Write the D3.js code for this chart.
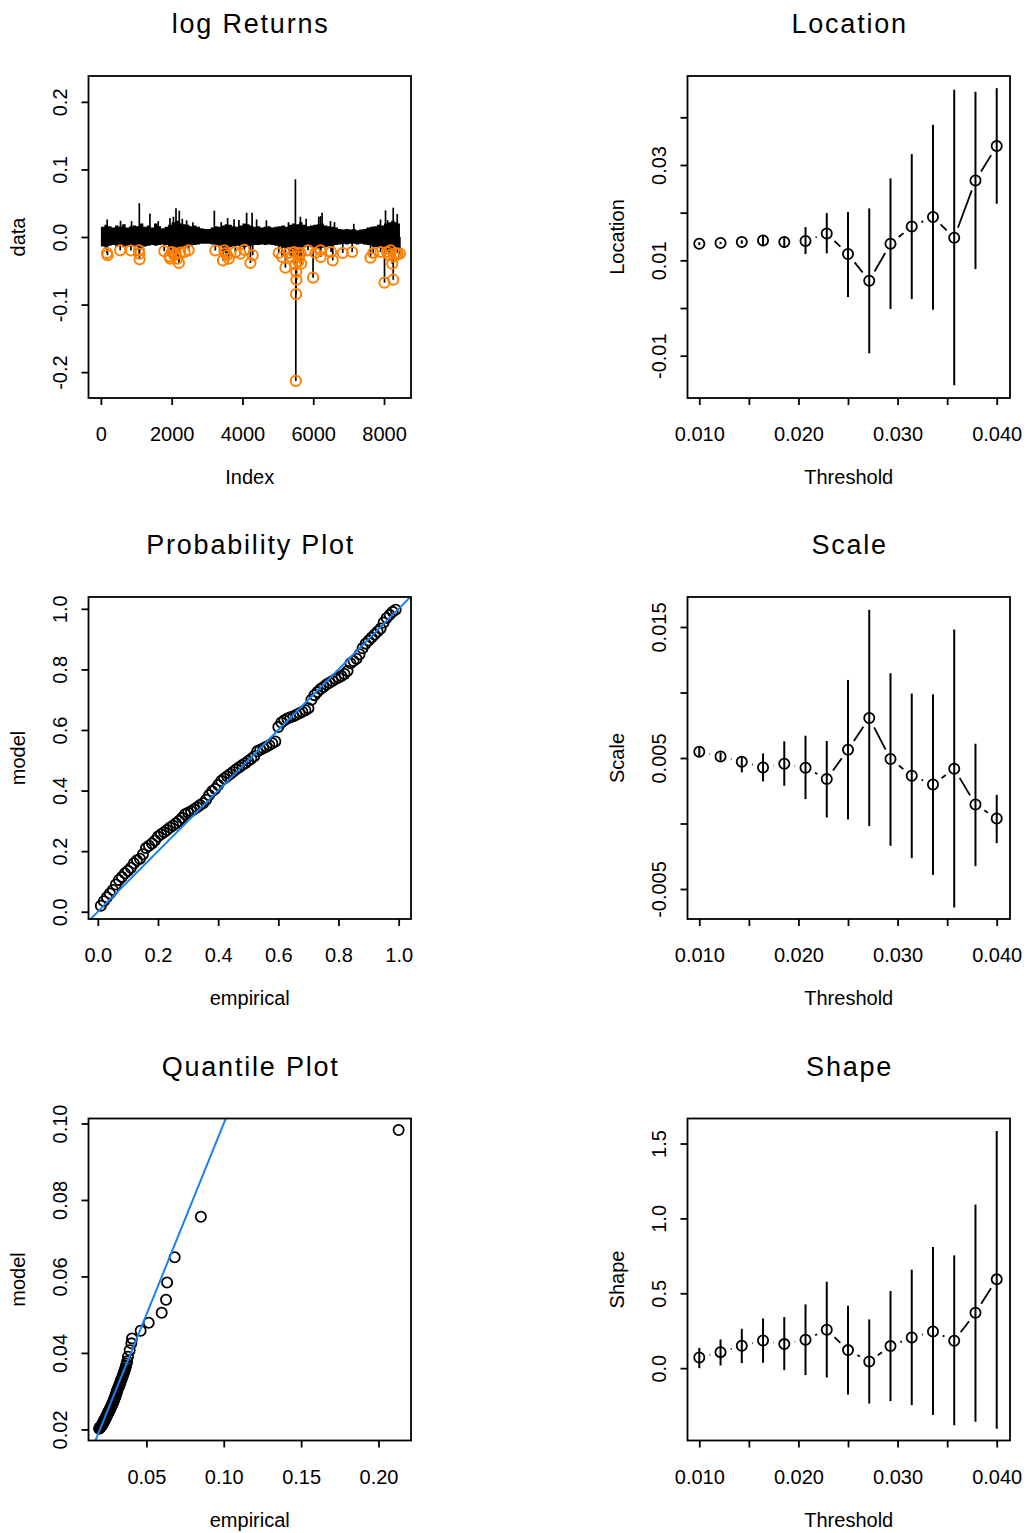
<!DOCTYPE html>
<html><head><meta charset="utf-8">
<script src="https://cdn.jsdelivr.net/npm/d3@7"></script>
<style>
body{margin:0;background:#fff}
svg{display:block}
text{font-family:'Liberation Sans',Arial,Helvetica,sans-serif;fill:#000}
</style>
</head><body>
<svg id="chart" width="1027" height="1533"></svg>
<script>
// ---------------- DATA ----------------
// log returns panel: envelope of the dense series, per bin of 100 observations
const binWidth = 100;
const seriesEnd = 8450;
const bandTop = [
 .015,.018,.016,.014,.017,.015,.019,.014,.016,.017,
 .016,.020,.015,.017,.014,.020,.016,.013,.015,.018,
 .022,.024,.020,.019,.018,.016,.017,.015,.013,.012,
 .012,.014,.016,.015,.017,.019,.018,.016,.015,.017,
 .020,.019,.017,.015,.016,.014,.015,.016,.014,.015,
 .016,.017,.015,.018,.020,.019,.022,.018,.016,.017,
 .018,.019,.020,.017,.016,.015,.014,.012,.011,.012,
 .011,.012,.010,.011,.012,.014,.015,.016,.018,.017,
 .020,.022,.024,.022,.020];
const bandBottom = [
 -.014,-.016,-.013,-.012,-.014,-.013,-.015,-.013,-.012,-.014,
 -.015,-.016,-.014,-.013,-.012,-.013,-.012,-.011,-.012,-.014,
 -.016,-.017,-.016,-.015,-.014,-.013,-.012,-.011,-.010,-.010,
 -.010,-.011,-.012,-.013,-.015,-.016,-.015,-.014,-.013,-.014,
 -.015,-.014,-.013,-.012,-.012,-.011,-.012,-.011,-.012,-.013,
 -.014,-.016,-.017,-.016,-.018,-.018,-.017,-.015,-.014,-.015,
 -.016,-.017,-.016,-.015,-.014,-.013,-.012,-.011,-.010,-.011,
 -.010,-.010,-.011,-.010,-.011,-.012,-.013,-.015,-.016,-.017,
 -.018,-.017,-.018,-.017,-.016];
const spikeIndex = [178,555,866,1086,1386,1621,1952,2050,2122,2215,2300,2422,2600,3205,3400,3581,3762,3900,4118,4272,4400,4676,5300,5496,5638,5800,6156,6204,6250,6487,6600,7146,7900,8042,8100,8260,8373];
const spikeValue = [.026,.024,.0235,.050,.0346,.0235,.028,.030,.0425,.039,.027,.0247,.022,.039,.022,.028,.0264,.025,.036,.036,.026,.0247,.022,.0854,.030,.027,.030,.031,.036,.0235,.022,.0195,.026,.0395,.025,.0434,.034];
const exceedIndex = [170,187,546,849,1075,1085,1092,1791,1942,1960,2007,2080,2102,2160,2206,2244,2365,2479,3233,3450,3488,3520,3564,3611,3799,3941,4054,4224,4289,5025,5120,5214,5308,5375,5450,5497,5520,5526,5515,5507,5560,5580,5600,5639,5658,5854,5995,6061,6202,6210,6504,6551,6834,7100,7618,7694,7901,8014,8090,8150,8184,8232,8260,8280,8325,8380,8447];
const exceedValue = [-.0237,-.027,-.0197,-.020,-.0197,-.0247,-.033,-.021,-.0286,-.032,-.0222,-.027,-.0247,-.032,-.0385,-.0232,-.0222,-.0197,-.020,-.0346,-.0197,-.024,-.027,-.032,-.0222,-.0247,-.019,-.0385,-.027,-.0237,-.0296,-.0454,-.0237,-.0296,-.0222,-.0405,-.0518,-.0632,-.0846,-.213,-.024,-.036,-.029,-.0237,-.0395,-.0197,-.0602,-.0237,-.0197,-.0296,-.0222,-.0346,-.0237,-.0222,-.0306,-.0237,-.0222,-.0676,-.0222,-.027,-.0197,-.0395,-.0632,-.029,-.0237,-.025,-.0247];

// threshold diagnostics
const thresholds = [0.010,0.012143,0.014286,0.016429,0.018571,0.020714,0.022857,0.025,0.027143,0.029286,0.031429,0.033571,0.035714,0.037857,0.040];
const locationEst = [0.01348,0.01363,0.01384,0.01417,0.01384,0.01405,0.01564,0.01132,0.00572,0.01348,0.01711,0.01908,0.01474,0.02675,0.03396];
const locationLo  = [0.0132,0.0134,0.0135,0.01313,0.01257,0.01131,0.01145,0.0023,-0.00951,-0.0002,0.00188,-0.00036,-0.01622,0.00817,0.02187];
const locationHi  = [0.0138,0.0139,0.0142,0.01523,0.01502,0.01697,0.01991,0.02012,0.02089,0.02718,0.03228,0.03843,0.04577,0.04535,0.04611];
const scaleEst = [.00548,.00512,.00472,.00428,.00456,.00426,.00339,.00563,.00806,.00492,.00365,.00298,.00418,.00145,.00038];
const scaleLo  = [.00512,.00479,.0039,.00321,.00288,.00186,.00046,.00031,-.0002,-.0017,-.00265,-.00392,-.00642,-.00326,-.0015];
const scaleHi  = [.00581,.00543,.00512,.00535,.00627,.0067,.0063,.01096,.01631,.01147,.00992,.00986,.01481,.00609,.00219];
const shapeEst = [.0715,.107,.1495,.185,.1606,.1896,.2565,.1205,.0448,.1473,.2052,.2453,.183,.370,.593];
const shapeLo  = [.0002,.018,.0336,.0359,-.0131,-.0466,-.0622,-.176,-.236,-.220,-.247,-.312,-.381,-.358,-.405];
const shapeHi  = [.136,.192,.263,.332,.341,.426,.577,.417,.3255,.515,.658,.809,.753,1.092,1.584];

// probability plot
const probEmp = [.01,.02,.03,.04,.05,.06,.07,.08,.09,.10,.11,.12,.13,.14,.15,.16,.17,.18,.19,.20,
 .21,.22,.23,.24,.25,.26,.27,.28,.29,.30,.31,.32,.33,.34,.35,.36,.37,.38,.39,.40,
 .41,.42,.43,.44,.45,.46,.47,.48,.49,.50,.51,.52,.53,.54,.55,.56,.57,.58,.59,.60,
 .61,.62,.63,.64,.65,.66,.67,.68,.69,.70,.71,.72,.73,.74,.75,.76,.77,.78,.79,.80,
 .81,.82,.83,.84,.85,.86,.87,.88,.89,.90,.91,.92,.93,.94,.95,.96,.97,.98,.99];
const probModel = [.02,.035,.048,.06,.072,.09,.105,.115,.127,.135,
 .145,.16,.17,.175,.19,.21,.218,.225,.235,.248,
 .256,.262,.27,.278,.285,.292,.30,.31,.322,.327,
 .332,.338,.345,.352,.358,.37,.385,.398,.405,.418,
 .432,.44,.447,.455,.462,.47,.477,.484,.49,.498,
 .505,.513,.53,.535,.54,.545,.55,.556,.562,.61,
 .625,.632,.638,.642,.645,.65,.655,.66,.665,.672,
 .70,.715,.725,.735,.742,.75,.756,.762,.768,.773,
 .778,.785,.795,.82,.828,.835,.85,.87,.885,.895,
 .905,.915,.925,.935,.955,.97,.98,.99,.997];

// quantile plot
const quantEmp = [.0195,.0197,.0199,.0200,.0202,.0203,.0205,.0207,.0208,.0210,
 .0212,.0213,.0215,.0216,.0218,.0219,.0220,.0222,.0223,.0224,
 .0226,.0227,.0229,.0230,.0232,.0233,.0235,.0236,.0238,.0239,
 .0241,.0242,.0244,.0245,.0247,.0249,.0250,.0252,.0254,.0255,
 .0257,.0259,.0261,.0262,.0264,.0266,.0268,.0270,.0272,.0274,
 .0276,.0278,.0280,.0282,.0284,.0286,.0288,.0290,.0292,.0294,
 .0296,.0298,.0300,.0302,.0304,.0306,.0308,.0310,.0312,.0315,
 .0318,.0321,.0324,.0327,.0330,.0333,.0336,.0340,.0344,.0348,
 .0352,.0356,.0360,.0364,.0368,.0372,.0376,
 .0381,.0392,.0403,.0407,.0463,.0515,.0599,.0627,.0634,.0683,.0852,.2130];
const quantModel = [.0202,.0203,.0204,.0205,.0206,.0206,.0207,.0208,.0209,.0210,
 .0211,.0212,.0213,.0214,.0215,.0216,.0217,.0218,.0219,.0220,
 .0221,.0222,.0224,.0225,.0226,.0227,.0228,.0229,.0231,.0232,
 .0233,.0234,.0236,.0237,.0238,.0240,.0241,.0242,.0244,.0245,
 .0247,.0248,.0250,.0251,.0253,.0254,.0256,.0258,.0259,.0261,
 .0263,.0265,.0267,.0268,.0270,.0272,.0274,.0277,.0279,.0281,
 .0283,.0285,.0288,.0290,.0292,.0295,.0297,.0300,.0303,.0306,
 .0308,.0311,.0314,.0318,.0321,.0325,.0328,.0332,.0336,.0341,
 .0345,.0350,.0355,.0360,.0366,.0372,.0378,
 .0390,.0407,.0425,.0438,.0458,.0479,.0505,.0539,.0584,.0650,.0756,.0983];

// ticks
const retXTicks = [0,2000,4000,6000,8000];
const retXLabels = ["0","2000","4000","6000","8000"];
const retYTicks = [-0.2,-0.1,0,0.1,0.2];
const retYLabels = ["-0.2","-0.1","0.0","0.1","0.2"];
const thrTicks = [0.010,0.015,0.020,0.025,0.030,0.035,0.040];
const thrLabels = ["0.010","","0.020","","0.030","","0.040"];
const locTicks = [-0.01,0,0.01,0.02,0.03,0.04];
const locLabels = ["-0.01","","0.01","","0.03",""];
const scaTicks = [-0.005,0,0.005,0.010,0.015];
const scaLabels = ["-0.005","","0.005","","0.015"];
const shpTicks = [0,0.5,1.0,1.5];
const shpLabels = ["0.0","0.5","1.0","1.5"];
const probTicks = [0,0.2,0.4,0.6,0.8,1.0];
const probLabels = ["0.0","0.2","0.4","0.6","0.8","1.0"];
const qXTicks = [0.05,0.10,0.15,0.20];
const qXLabels = ["0.05","0.10","0.15","0.20"];
const qYTicks = [0.02,0.04,0.06,0.08,0.10];
const qYLabels = ["0.02","0.04","0.06","0.08","0.10"];

// ---------------- DRAWING ----------------
const svg = d3.select("#chart");
const BLUE = "#1883ee", ORANGE = "#ff7f00";
const colX = [88.5, 687.5], rowY = [76, 597, 1118.5];
const BW = 322.5, BH = 322;
const R = 5.1, LW = 1.8;

function panel(o){
  const left = colX[o.col], top = rowY[o.row];
  const x = d3.scaleLinear().domain(o.xd).range([left, left+BW]);
  const y = d3.scaleLinear().domain(o.yd).range([top+BH, top]);
  const g = svg.append("g");
  const cid = "clip"+o.col+o.row;
  svg.append("clipPath").attr("id",cid).append("rect")
    .attr("x",left).attr("y",top).attr("width",BW).attr("height",BH);
  const content = g.append("g").attr("clip-path", o.clip ? `url(#${cid})` : null);
  o.draw(content, x, y);
  g.append("rect").attr("x",left).attr("y",top).attr("width",BW).attr("height",BH)
    .attr("fill","none").attr("stroke","#000").attr("stroke-width",LW);
  // bottom axis
  const ax = g.append("g").attr("transform",`translate(0,${top+BH})`)
    .call(d3.axisBottom(x).tickValues(o.xt).tickFormat((d,i)=>o.xl[i]).tickSize(7).tickSizeOuter(0));
  ax.select(".domain").remove();
  ax.selectAll(".tick line").attr("stroke","#000").attr("stroke-width",LW);
  ax.selectAll(".tick text").attr("y",43).attr("dy",null)
    .style("font-size","20px").style("font-family","'Liberation Sans',Arial,sans-serif").attr("fill","#000");
  // left axis
  const ay = g.append("g").attr("transform",`translate(${left},0)`)
    .call(d3.axisLeft(y).tickValues(o.yt).tickFormat((d,i)=>o.yl[i]).tickSize(7).tickSizeOuter(0));
  ay.select(".domain").remove();
  ay.selectAll(".tick line").attr("stroke","#000").attr("stroke-width",LW);
  ay.selectAll(".tick text").attr("x",0).attr("y",-21.5).attr("dy",null)
    .attr("transform","rotate(-90)").attr("text-anchor","middle")
    .style("font-size","20px").style("font-family","'Liberation Sans',Arial,sans-serif").attr("fill","#000");
  // titles
  const cx = left + BW/2, cy = top + BH/2;
  g.append("text").attr("x",cx+0.9).attr("y",top-43).attr("text-anchor","middle")
    .style("font-size","27px").style("letter-spacing","1.8px").text(o.title);
  g.append("text").attr("x",cx).attr("y",top+BH+86).attr("text-anchor","middle")
    .style("font-size","20px").text(o.xlab);
  g.append("text").attr("transform",`translate(${left-64},${cy}) rotate(-90)`).attr("text-anchor","middle")
    .style("font-size","20px").text(o.ylab);
}

// type "b" style: lines between points with gaps round symbols
function gappedLines(g, pts, gap){
  for(let i=0;i<pts.length-1;i++){
    const [x1,y1]=pts[i],[x2,y2]=pts[i+1];
    const dx=x2-x1, dy=y2-y1, d=Math.hypot(dx,dy);
    if(d<=2*gap) continue;
    const ux=dx/d, uy=dy/d;
    g.append("line").attr("x1",x1+ux*gap).attr("y1",y1+uy*gap)
      .attr("x2",x2-ux*gap).attr("y2",y2-uy*gap)
      .attr("stroke","#000").attr("stroke-width",LW);
  }
}

function thresholdDraw(est, lo, hi){
  return (g,x,y)=>{
    g.selectAll("line.err").data(thresholds).join("line").attr("class","err")
      .attr("x1",d=>x(d)).attr("x2",d=>x(d))
      .attr("y1",(d,i)=>y(lo[i])).attr("y2",(d,i)=>y(hi[i]))
      .attr("stroke","#000").attr("stroke-width",2);
    const pts = thresholds.map((t,i)=>[x(t),y(est[i])]);
    gappedLines(g, pts, 10.6);
    g.selectAll("circle").data(pts).join("circle")
      .attr("cx",d=>d[0]).attr("cy",d=>d[1]).attr("r",R)
      .attr("fill","none").attr("stroke","#000").attr("stroke-width",LW);
  };
}

// Panel: log Returns
panel({col:0,row:0,xd:[-350,8762],yd:[-0.2383,0.2383],
  xt:retXTicks,xl:retXLabels,yt:retYTicks,yl:retYLabels,
  title:"log Returns",xlab:"Index",ylab:"data",
  draw:(g,x,y)=>{
    const band = bandTop.map((t,k)=>({i:k*binWidth,hi:t,lo:bandBottom[k]}));
    band.push({i:seriesEnd,hi:bandTop[bandTop.length-1],lo:bandBottom[bandBottom.length-1]});
    g.append("path").datum(band)
      .attr("d",d3.area().x(d=>x(d.i)).y0(d=>y(d.lo)).y1(d=>y(d.hi)).curve(d3.curveStepAfter))
      .attr("fill","#000");
    g.selectAll("line.up").data(spikeIndex).join("line").attr("class","up")
      .attr("x1",d=>x(d)).attr("x2",d=>x(d)).attr("y1",y(0)).attr("y2",(d,i)=>y(spikeValue[i]))
      .attr("stroke","#000").attr("stroke-width",1.7);
    g.selectAll("line.dn").data(exceedIndex).join("line").attr("class","dn")
      .attr("x1",d=>x(d)).attr("x2",d=>x(d)).attr("y1",y(0)).attr("y2",(d,i)=>y(exceedValue[i]))
      .attr("stroke","#000").attr("stroke-width",1.7);
    g.selectAll("circle").data(exceedIndex).join("circle")
      .attr("cx",d=>x(d)).attr("cy",(d,i)=>y(exceedValue[i])).attr("r",R)
      .attr("fill","none").attr("stroke",ORANGE).attr("stroke-width",2);
  }});

panel({col:1,row:0,xd:[0.00881,0.04134],yd:[-0.01887,0.04866],
  xt:thrTicks,xl:thrLabels,yt:locTicks,yl:locLabels,
  title:"Location",xlab:"Threshold",ylab:"Location",
  draw:thresholdDraw(locationEst,locationLo,locationHi)});

panel({col:1,row:1,xd:[0.00881,0.04134],yd:[-0.00729,0.01729],
  xt:thrTicks,xl:thrLabels,yt:scaTicks,yl:scaLabels,
  title:"Scale",xlab:"Threshold",ylab:"Scale",
  draw:thresholdDraw(scaleEst,scaleLo,scaleHi)});

panel({col:1,row:2,xd:[0.00881,0.04134],yd:[-0.483,1.667],
  xt:thrTicks,xl:thrLabels,yt:shpTicks,yl:shpLabels,
  title:"Shape",xlab:"Threshold",ylab:"Shape",
  draw:thresholdDraw(shapeEst,shapeLo,shapeHi)});

panel({col:0,row:1,xd:[-0.031,1.041],yd:[-0.024,1.039],clip:true,
  xt:probTicks,xl:probLabels,yt:probTicks,yl:probLabels,
  title:"Probability Plot",xlab:"empirical",ylab:"model",
  draw:(g,x,y)=>{
    g.selectAll("circle").data(probEmp).join("circle")
      .attr("cx",d=>x(d)).attr("cy",(d,i)=>y(probModel[i])).attr("r",R)
      .attr("fill","none").attr("stroke","#000").attr("stroke-width",LW);
    g.append("line").attr("x1",x(-1)).attr("y1",y(-1)).attr("x2",x(2)).attr("y2",y(2))
      .attr("stroke",BLUE).attr("stroke-width",2);
  }});

panel({col:0,row:2,xd:[0.0126,0.2210],yd:[0.0171,0.1013],clip:true,
  xt:qXTicks,xl:qXLabels,yt:qYTicks,yl:qYLabels,
  title:"Quantile Plot",xlab:"empirical",ylab:"model",
  draw:(g,x,y)=>{
    g.selectAll("circle").data(quantEmp).join("circle")
      .attr("cx",d=>x(d)).attr("cy",(d,i)=>y(quantModel[i])).attr("r",R)
      .attr("fill","none").attr("stroke","#000").attr("stroke-width",LW);
    g.append("line").attr("x1",x(0)).attr("y1",y(0)).attr("x2",x(0.3)).attr("y2",y(0.3))
      .attr("stroke",BLUE).attr("stroke-width",2);
  }});
</script>
</body></html>
